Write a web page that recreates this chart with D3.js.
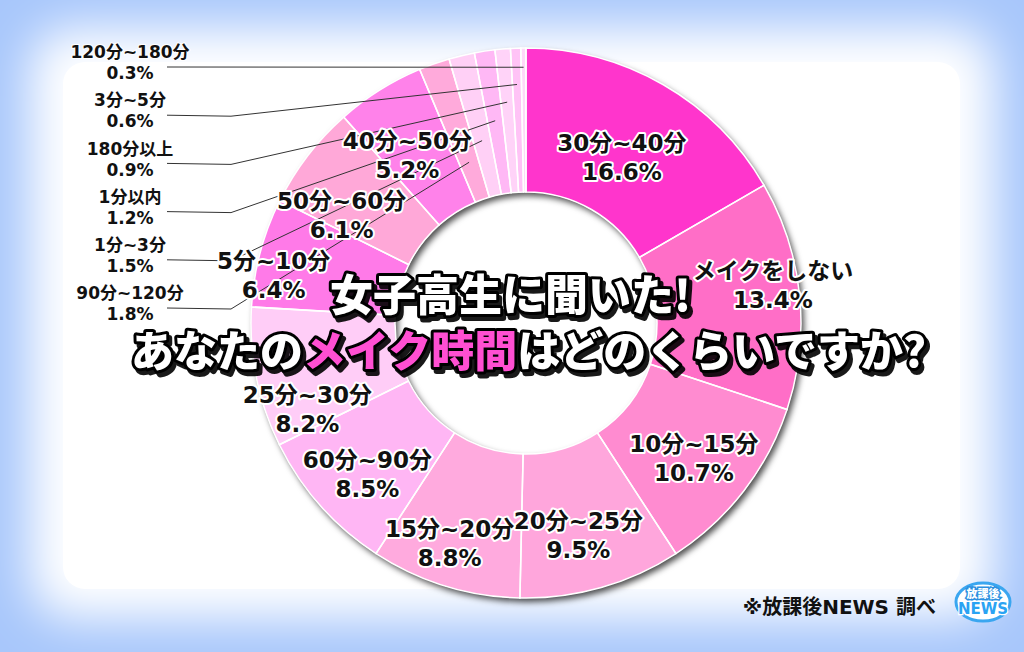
<!DOCTYPE html>
<html><head><meta charset="utf-8">
<script src="https://cdn.jsdelivr.net/npm/d3@7"></script>
<style>
html,body{margin:0;padding:0;background:#fff;}
svg{display:block;}
text{font-family:"DejaVu Sans","Noto Sans CJK JP",sans-serif;}
text.cjk{font-family:"Noto Sans CJK JP","Noto Sans",sans-serif;}
</style></head>
<body>
<svg id="chart" width="1024" height="652"></svg>
<script>
// ---- data ----
const categories = ["30分~40分","メイクをしない","10分~15分","20分~25分","15分~20分","60分~90分","25分~30分","5分~10分","50分~60分","40分~50分","90分~120分","1分~3分","1分以内","180分以上","3分~5分","120分~180分"];
const values = [16.6,13.4,10.7,9.5,8.8,8.5,8.2,6.4,6.1,5.2,1.8,1.5,1.2,0.9,0.6,0.3];
const sliceColors = ["#ff36cc","#ff6ec7","#ff8bd0","#ffa6dc","#ffaade","#ffb6f4","#ffcdf7","#ff7ae8","#ffa8d8","#ff82ea","#ffaadb","#ffd0f6","#ffb8f5","#ffd3f8","#ffc3f6","#ffd9f9"];
const titleLine1 = "女子高生に聞いた!";
const titleLine2 = [["あなたの","#ffffff"],["メイク時間","#ff4fd2"],["はどのくらいですか?","#ffffff"]];
const sourceText = "※放課後NEWS 調べ";

// ---- layout ----
const W = 1024, H = 652;
const cx = 526, cy = 323, rOuter = 275, rInner = 131;
const labelBaseR = 215;
// per-slice label nudges for big slices [radius delta, angle delta in degrees]
const labelShift = [[-23,0],[35,-3],[0,1],[3,2],[18,2],[4,-2],[20,-10],[42,-4],[-1,-7],[-9,-3]];
const smallCount = 6;

const svg = d3.select("#chart");
const defs = svg.append("defs");

const blurF = defs.append("filter").attr("id","bgblur").attr("x","-20%").attr("y","-20%").attr("width","140%").attr("height","140%");
blurF.append("feGaussianBlur").attr("stdDeviation",24);
const sh = defs.append("filter").attr("id","pieShadow").attr("x","-20%").attr("y","-20%").attr("width","140%").attr("height","140%");
sh.append("feDropShadow").attr("dx",3).attr("dy",4).attr("stdDeviation",3).attr("flood-color","#000").attr("flood-opacity",0.7);
const tsh = defs.append("filter").attr("id","titleShadow").attr("x","-10%").attr("y","-30%").attr("width","120%").attr("height","160%");
tsh.append("feDropShadow").attr("dx",3).attr("dy",4).attr("stdDeviation",0.6).attr("flood-color","#000").attr("flood-opacity",0.9);

// background
svg.append("rect").attr("width",W).attr("height",H).attr("fill","#a8c7fb");
svg.append("rect").attr("x",30).attr("y",28).attr("width",W-60).attr("height",H-62).attr("rx",40)
  .attr("fill","#ffffff").attr("filter","url(#bgblur)");
svg.append("rect").attr("x",63).attr("y",62).attr("width",897).attr("height",527).attr("rx",22).attr("fill","#ffffff");

// pie
const data = categories.map((c,i)=>({cat:c, value:values[i], color:sliceColors[i]}));
const pie = d3.pie().sort(null).value(d=>d.value);
const arcs = pie(data);
const arc = d3.arc().innerRadius(rInner).outerRadius(rOuter);

const g = svg.append("g").attr("transform",`translate(${cx},${cy})`);
const ring = g.append("g").attr("filter","url(#pieShadow)");
ring.selectAll("path").data(arcs).join("path")
  .attr("d",arc).attr("fill",d=>d.data.color);
g.append("g").selectAll("path").data(arcs).join("path")
  .attr("d",arc).attr("fill","none").attr("stroke","#ffffff").attr("stroke-width",1.5);

// small slice leader lines and labels
const n = arcs.length;
const smallArcs = arcs.slice(n-smallCount).reverse(); // 120-180 first
const labelX = 130, labelTop = 52, labelStep = 48.2;
const lineStartX = 167, kinkX = 231;
const lbl = svg.append("g");
smallArcs.forEach((d,k)=>{
  const y1 = labelTop + k*labelStep;
  const y2 = y1 + 21;
  const mid = (d.startAngle+d.endAngle)/2;
  const rr = rOuter*(0.93-0.062*k);
  const ex = cx + rr*Math.sin(mid), ey = cy - rr*Math.cos(mid);
  const ly = y2 - 6;
  lbl.append("path")
    .attr("d", k===0 ? `M${lineStartX},${ly}L${ex},${ey}` : `M${lineStartX},${ly}L${kinkX},${ly+1}L${ex},${ey}`)
    .attr("fill","none").attr("stroke","#333").attr("stroke-width",1);
});
smallArcs.forEach((d,k)=>{
  const y1 = labelTop + k*labelStep;
  const t = lbl.append("text").attr("x",labelX).attr("text-anchor","middle")
    .attr("font-size",17).attr("font-weight",700).attr("fill","#111")
    .attr("paint-order","stroke").attr("stroke","#fff").attr("stroke-width",2);
  t.append("tspan").attr("x",labelX).attr("y",y1).attr("dy","0.36em").text(d.data.cat);
  t.append("tspan").attr("x",labelX).attr("y",y1+21).attr("dy","0.36em").text(d3.format(".1f")(d.data.value)+"%");
});

// big slice labels
arcs.slice(0,n-smallCount).forEach((d,i)=>{
  const s = labelShift[i];
  const mid = (d.startAngle+d.endAngle)/2 + s[1]*Math.PI/180;
  const r = labelBaseR + s[0];
  const x = cx + r*Math.sin(mid), y = cy - r*Math.cos(mid);
  const t = svg.append("text").attr("text-anchor","middle")
    .attr("font-size",23).attr("font-weight",700).attr("fill","#111")
    .attr("paint-order","stroke").attr("stroke","#fff").attr("stroke-width",4).attr("stroke-linejoin","round");
  t.append("tspan").attr("x",x).attr("y",y-14).attr("dy","0.36em").text(d.data.cat);
  t.append("tspan").attr("x",x).attr("y",y+15).attr("dy","0.36em").text(d3.format(".1f")(d.data.value)+"%");
});

// title
const tg = svg.append("g").attr("filter","url(#titleShadow)");
tg.append("text").attr("class","cjk").attr("x",330).attr("y",296).attr("dy","0.36em")
  .attr("font-size",43).attr("font-weight",900).attr("fill","#fff")
  .attr("stroke","#000").attr("stroke-width",6).attr("paint-order","stroke").attr("stroke-linejoin","round")
  .text(titleLine1);
const t2 = tg.append("text").attr("class","cjk").attr("x",926).attr("y",352).attr("dy","0.36em")
  .attr("text-anchor","end")
  .attr("font-size",43).attr("font-weight",900)
  .attr("stroke","#000").attr("stroke-width",6).attr("paint-order","stroke").attr("stroke-linejoin","round");
titleLine2.forEach(p=>t2.append("tspan").attr("fill",p[1]).text(p[0]));

// source
svg.append("text").attr("x",936).attr("y",607).attr("dy","0.36em").attr("text-anchor","end")
  .attr("font-size",20).attr("font-weight",700).attr("fill","#111").text(sourceText);

// logo
const lg = svg.append("g").attr("transform","translate(983,602)");
lg.append("ellipse").attr("rx",27).attr("ry",19).attr("fill","#ffffff").attr("stroke","#3aa6f0").attr("stroke-width",3);
lg.append("text").attr("class","cjk").attr("y",-8).attr("dy","0.36em").attr("text-anchor","middle").attr("font-size",11).attr("font-weight",900)
  .attr("fill","#fff").attr("stroke","#2b8fe0").attr("stroke-width",3).attr("paint-order","stroke").text("放課後");
lg.append("text").attr("y",7).attr("dy","0.36em").attr("text-anchor","middle").attr("font-size",15).attr("font-weight",900)
  .attr("fill","#2aa3f3").attr("stroke","#fff").attr("stroke-width",2.5).attr("paint-order","stroke").text("NEWS");
</script>
</body></html>
